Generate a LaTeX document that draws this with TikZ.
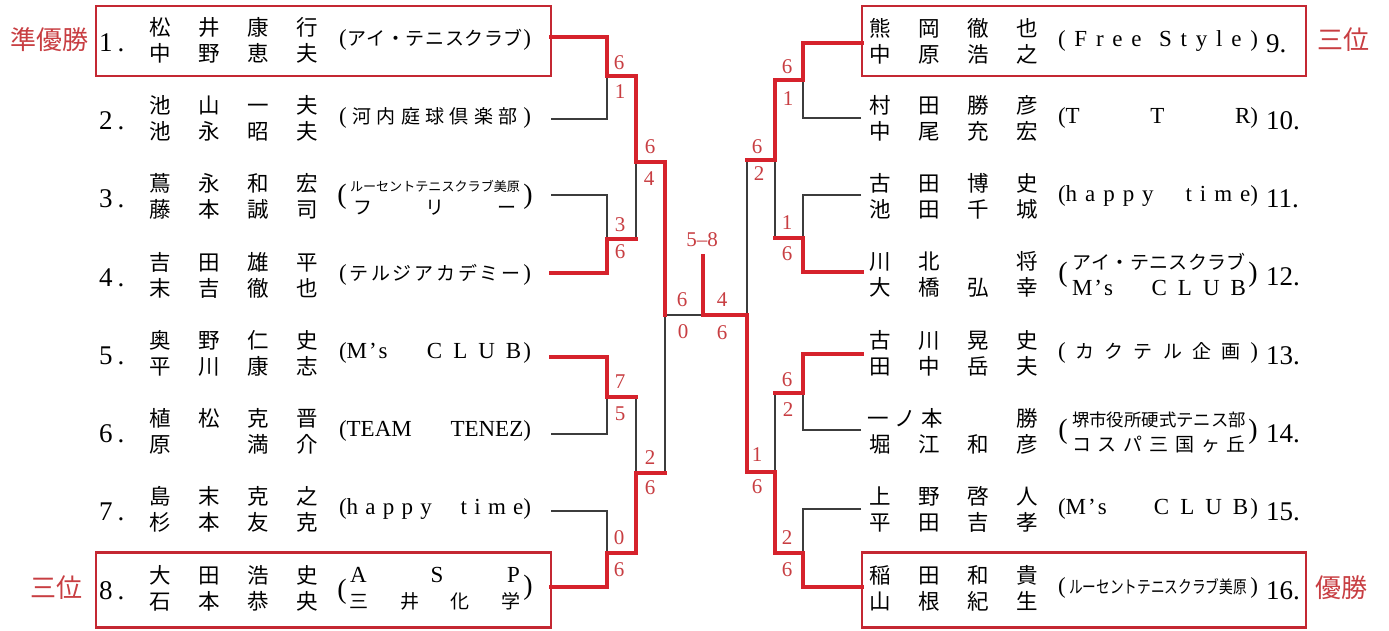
\documentclass[tikz,border=0pt]{standalone}
\usepackage{fontspec}
\usepackage{graphicx}
\setmainfont{Liberation Serif}
\newfontfamily\jp{Noto Sans CJK JP}
\definecolor{wred}{RGB}{214,34,44}
\definecolor{sred}{RGB}{200,62,66}
\definecolor{bred}{RGB}{196,40,50}
\definecolor{lgray}{RGB}{60,60,60}
\newcommand\nm[4]{\makebox[49pt]{#1}\makebox[49pt]{#2}\makebox[49pt]{#3}\makebox[49pt]{#4}}
\def\spr#1{\ifx#1\relax\else#1\hfil\expandafter\spr\fi}
\newcommand\TL[1]{\hbox to 192pt{#1}}
\newcommand\TR[1]{\hbox to 200pt{#1}}
\newcommand\J{\jp\fontsize{19}{19}\selectfont}
\begin{document}
\begin{tikzpicture}[x=1pt,y=-1pt,
  win/.style={draw=wred,line width=3.6pt,line cap=rect},
  lose/.style={draw=lgray,line width=1.1pt},
  box/.style={draw=bred,line width=2.6pt,inner sep=0},
  score/.style={text=sred,inner sep=0,font=\fontsize{21}{21}\selectfont},
  nmline/.style={inner sep=0,font=\jp\fontsize{21.5}{21.5}\selectfont},
  num/.style={inner sep=0,anchor=west,font=\fontsize{27}{27}\selectfont},
  team/.style={inner sep=0,font=\fontsize{23}{23}\selectfont},
  bigp/.style={inner sep=0,font=\fontsize{28}{28}\selectfont},
  place/.style={text=sred,inner sep=0,font=\jp\fontsize{26}{26}\selectfont}]
\useasboundingbox[fill=white] (0,0) rectangle (1389,630);

% ---------- boxes ----------
\node[box,minimum width=455pt,minimum height=70pt] (box1) at (323.5,41) {};
\node[box,minimum width=455pt,minimum height=75pt] (box8) at (323.5,590) {};
\node[box,minimum width=444pt,minimum height=70pt] (box9) at (1084,41) {};
\node[box,minimum width=444pt,minimum height=75pt] (box16) at (1084,590) {};

% ---------- place labels ----------
\node[place] (p1) at (49,40) {準優勝};
\node[place] (p8) at (56,588) {三位};
\node[place] (p9) at (1343,40) {三位};
\node[place] (p16) at (1341,588) {優勝};

% ---------- left players ----------
\node[num] (k1) at (99,43) {1\kern5pt.};
\node[nmline] (n1a) at (233.5,27) {\nm{松}{井}{康}{行}};
\node[nmline] (n1b) at (233.5,53) {\nm{中}{野}{恵}{夫}};
\node[team] (t1) at (435,40) {\TL{(\hfil{\J\spr アイ・テニスクラブ\relax})}};

\node[num] (k2) at (99,121) {2\kern5pt.};
\node[nmline] (n2a) at (233.5,105) {\nm{池}{山}{一}{夫}};
\node[nmline] (n2b) at (233.5,131) {\nm{池}{永}{昭}{夫}};
\node[team] (t2) at (435,118) {\TL{(\hfil{\J\spr 河内庭球倶楽部\relax})}};

\node[num] (k3) at (99,199) {3\kern5pt.};
\node[nmline] (n3a) at (233.5,183) {\nm{蔦}{永}{和}{宏}};
\node[nmline] (n3b) at (233.5,209) {\nm{藤}{本}{誠}{司}};
\node[bigp] (t3l) at (342,197) {(};
\node[bigp] (t3r) at (528,197) {)};
\node[inner sep=0] (t3a) at (435,186) {\resizebox{170pt}{!}{\J ルーセントテニスクラブ美原}};
\node[inner sep=0] (t3b) at (435,208) {\J\hbox to 164pt{フ\hfil リ\hfil ー}};

\node[num] (k4) at (99,278) {4\kern5pt.};
\node[nmline] (n4a) at (233.5,262) {\nm{吉}{田}{雄}{平}};
\node[nmline] (n4b) at (233.5,288) {\nm{末}{吉}{徹}{也}};
\node[team] (t4) at (435,275) {\TL{(\hfil{\J\spr テルジアカデミー\relax})}};

\node[num] (k5) at (99,356) {5\kern5pt.};
\node[nmline] (n5a) at (233.5,340) {\nm{奥}{野}{仁}{史}};
\node[nmline] (n5b) at (233.5,366) {\nm{平}{川}{康}{志}};
\node[team] (t5) at (435,353) {\TL{(M\kern2pt’\kern2pt s\hfil C\hskip11pt L\hskip11pt U\hskip11pt B\kern2pt)}};

\node[num] (k6) at (99,434) {6\kern5pt.};
\node[nmline] (n6a) at (233.5,418) {\nm{植}{松}{克}{晋}};
\node[nmline] (n6b) at (233.5,444) {\nm{原}{}{満}{介}};
\node[team] (t6) at (435,431) {\TL{(TEAM\hfil TENEZ)}};

\node[num] (k7) at (99,512) {7\kern5pt.};
\node[nmline] (n7a) at (233.5,496) {\nm{島}{末}{克}{之}};
\node[nmline] (n7b) at (233.5,522) {\nm{杉}{本}{友}{克}};
\node[team] (t7) at (435,509) {\TL{(h\hfil a\hfil p\hfil p\hfil y\hfil\hfil\hfil\hfil t\hfil i\hfil m\hfil e)}};

\node[num] (k8) at (99,591) {8\kern5pt.};
\node[nmline] (n8a) at (233.5,575) {\nm{大}{田}{浩}{史}};
\node[nmline] (n8b) at (233.5,601) {\nm{石}{本}{恭}{央}};
\node[bigp] (t8l) at (342,592) {(};
\node[bigp] (t8r) at (528,588) {)};
\node[team] (t8a) at (435,575) {\hbox to 170pt{A\hfil S\hfil P}};
\node[inner sep=0] (t8b) at (435,601) {\J\hbox to 172pt{三\hfil 井\hfil 化\hfil 学}};

% ---------- right players ----------
\node[num] (k9) at (1266,44) {9.};
\node[nmline] (n9a) at (953.5,28) {\nm{熊}{岡}{徹}{也}};
\node[nmline] (n9b) at (953.5,54) {\nm{中}{原}{浩}{之}};
\node[team] (t9) at (1158,41) {\TR{(\hfil F\hfil r\hfil e\hfil e\hfil\hfil S\hfil t\hfil y\hfil l\hfil e\hfil)}};

\node[num] (k10) at (1266,121) {10.};
\node[nmline] (n10a) at (953.5,105) {\nm{村}{田}{勝}{彦}};
\node[nmline] (n10b) at (953.5,131) {\nm{中}{尾}{充}{宏}};
\node[team] (t10) at (1158,118) {\TR{(T\hfil T\hfil R)}};

\node[num] (k11) at (1266,199) {11.};
\node[nmline] (n11a) at (953.5,183) {\nm{古}{田}{博}{史}};
\node[nmline] (n11b) at (953.5,209) {\nm{池}{田}{千}{城}};
\node[team] (t11) at (1158,196) {\TR{(h\hfil a\hfil p\hfil p\hfil y\hfil\hfil\hfil\hfil t\hfil i\hfil m\hfil e)}};

\node[num] (k12) at (1266,277) {12.};
\node[nmline] (n12a) at (953.5,261) {\nm{川}{北}{}{将}};
\node[nmline] (n12b) at (953.5,287) {\nm{大}{橋}{弘}{幸}};
\node[bigp] (t12l) at (1063,275) {(};
\node[bigp] (t12r) at (1253,275) {)};
\node[inner sep=0] (t12a) at (1159,262) {\J\hbox to 174pt{ア\hfil イ\hfil ・\hfil テ\hfil ニ\hfil ス\hfil ク\hfil ラ\hfil ブ}};
\node[team] (t12b) at (1159,288) {\hbox to 174pt{M\kern2pt’\kern2pt s\hfil C\hskip11pt L\hskip11pt U\hskip11pt B}};

\node[num] (k13) at (1266,356) {13.};
\node[nmline] (n13a) at (953.5,340) {\nm{古}{川}{晃}{史}};
\node[nmline] (n13b) at (953.5,366) {\nm{田}{中}{岳}{夫}};
\node[team] (t13) at (1158,353) {\TR{(\hfil{\J\spr カクテル企画\relax})}};

\node[num] (k14) at (1266,434) {14.};
\node[nmline] (n14a) at (953.5,418) {\hbox to 98pt{\hskip12pt 一\hfil ノ\hfil 本\hskip10pt}\makebox[49pt]{}\makebox[49pt]{勝}};
\node[nmline] (n14b) at (953.5,444) {\nm{堀}{江}{和}{彦}};
\node[bigp] (t14l) at (1063,432) {(};
\node[bigp] (t14r) at (1253,432) {)};
\node[inner sep=0] (t14a) at (1159,420) {\resizebox{174pt}{!}{\J 堺市役所硬式テニス部}};
\node[inner sep=0] (t14b) at (1159,444) {\J\hbox to 174pt{コ\hfil ス\hfil パ\hfil 三\hfil 国\hfil ヶ\hfil 丘}};

\node[num] (k15) at (1266,512) {15.};
\node[nmline] (n15a) at (953.5,496) {\nm{上}{野}{啓}{人}};
\node[nmline] (n15b) at (953.5,522) {\nm{平}{田}{吉}{孝}};
\node[team] (t15) at (1158,509) {\TR{(M\kern2pt’\kern2pt s\hfil C\hskip11pt L\hskip11pt U\hskip11pt B\kern2pt)}};

\node[num] (k16) at (1266,591) {16.};
\node[nmline] (n16a) at (953.5,575) {\nm{稲}{田}{和}{貴}};
\node[nmline] (n16b) at (953.5,601) {\nm{山}{根}{紀}{生}};
\node[team] (t16) at (1158,588) {\TR{(\hfil\scalebox{0.72}[0.92]{\J ルーセントテニスクラブ美原}\hfil)}};

% ---------- bracket coordinates ----------
\coordinate (L1) at (551,37);  \coordinate (L2) at (551,119);
\coordinate (L3) at (551,195); \coordinate (L4) at (551,273);
\coordinate (L5) at (551,357); \coordinate (L6) at (551,434);
\coordinate (L7) at (551,511); \coordinate (L8) at (551,587);
\coordinate (a1) at (607,76);  \coordinate (a2) at (607,239);
\coordinate (a3) at (607,397); \coordinate (a4) at (607,553);
\coordinate (b1) at (636,162); \coordinate (b2) at (636,473);
\coordinate (c1) at (665,315);
\coordinate (f) at (703,315);  \coordinate (top58) at (703,256);
\coordinate (g) at (747,315);
\coordinate (e1) at (775,160); \coordinate (e2) at (775,472);
\coordinate (d1) at (803,80);  \coordinate (d2) at (803,238);
\coordinate (d3) at (803,393); \coordinate (d4) at (803,553);
\coordinate (R9) at (862,43);   \coordinate (R10) at (861,118);
\coordinate (R11) at (861,195); \coordinate (R12) at (862,272);
\coordinate (R13) at (862,354); \coordinate (R14) at (861,430);
\coordinate (R15) at (861,509); \coordinate (R16) at (862,587);

% thin (losing) lines
\draw[lose] (L2) -| (a1);  \draw[lose] (L3) -| (a2);
\draw[lose] (L6) -| (a3);  \draw[lose] (L7) -| (a4);
\draw[lose] (b1) -- (a2 -| b1);
\draw[lose] (a3 -| b2) -- (b2);
\draw[lose] (c1) -- (b2 -| c1);
\draw[lose] (c1) -- (f);
\draw[lose] (R10) -| (d1); \draw[lose] (R11) -| (d2);
\draw[lose] (R14) -| (d3); \draw[lose] (R15) -| (d4);
\draw[lose] (e1) -- (d2 -| e1);
\draw[lose] (d3 -| e2) -- (e2);
\draw[lose] (e1 -| g) -- (g);

% red (winning) lines
\draw[win] (L1) -| (a1) -| (b1) -| (c1);
\draw[win] (L4) -| (a2) -- (a2 -| b1);
\draw[win] (L5) -| (a3) -- (a3 -| b2);
\draw[win] (L8) -| (a4) -| (b2) -- (b2 -| c1);
\draw[win] (top58) -- (f) -- (g);
\draw[win] (R16) -| (d4) -| (e2) -| (g);
\draw[win] (R9) -| (d1) -| (e1) -- (e1 -| g);
\draw[win] (R12) -| (d2) -- (d2 -| e1);
\draw[win] (R13) -| (d3) -- (d3 -| e2);

% ---------- scores ----------
\node[score] (s1) at (619,63) {6};  \node[score] (s2) at (620,92) {1};
\node[score] (s3) at (620,225) {3}; \node[score] (s4) at (620,252) {6};
\node[score] (s5) at (620,382) {7}; \node[score] (s6) at (620,414) {5};
\node[score] (s7) at (619,538) {0}; \node[score] (s8) at (619,570) {6};
\node[score] (s9) at (650,147) {6}; \node[score] (s10) at (649,179) {4};
\node[score] (s11) at (650,458) {2}; \node[score] (s12) at (650,488) {6};
\node[score] (s13) at (682,300) {6}; \node[score] (s14) at (683,332) {0};
\node[score] (s15) at (722,300) {4}; \node[score] (s16) at (722,333) {6};
\node[score] (s58) at (702,240) {5--8};
\node[score] (s17) at (787,67) {6};  \node[score] (s18) at (788,99) {1};
\node[score] (s19) at (787,223) {1}; \node[score] (s20) at (787,254) {6};
\node[score] (s21) at (787,380) {6}; \node[score] (s22) at (788,410) {2};
\node[score] (s23) at (787,538) {2}; \node[score] (s24) at (787,570) {6};
\node[score] (s25) at (757,147) {6}; \node[score] (s26) at (759,174) {2};
\node[score] (s27) at (757,455) {1}; \node[score] (s28) at (757,487) {6};
\end{tikzpicture}
\end{document}
